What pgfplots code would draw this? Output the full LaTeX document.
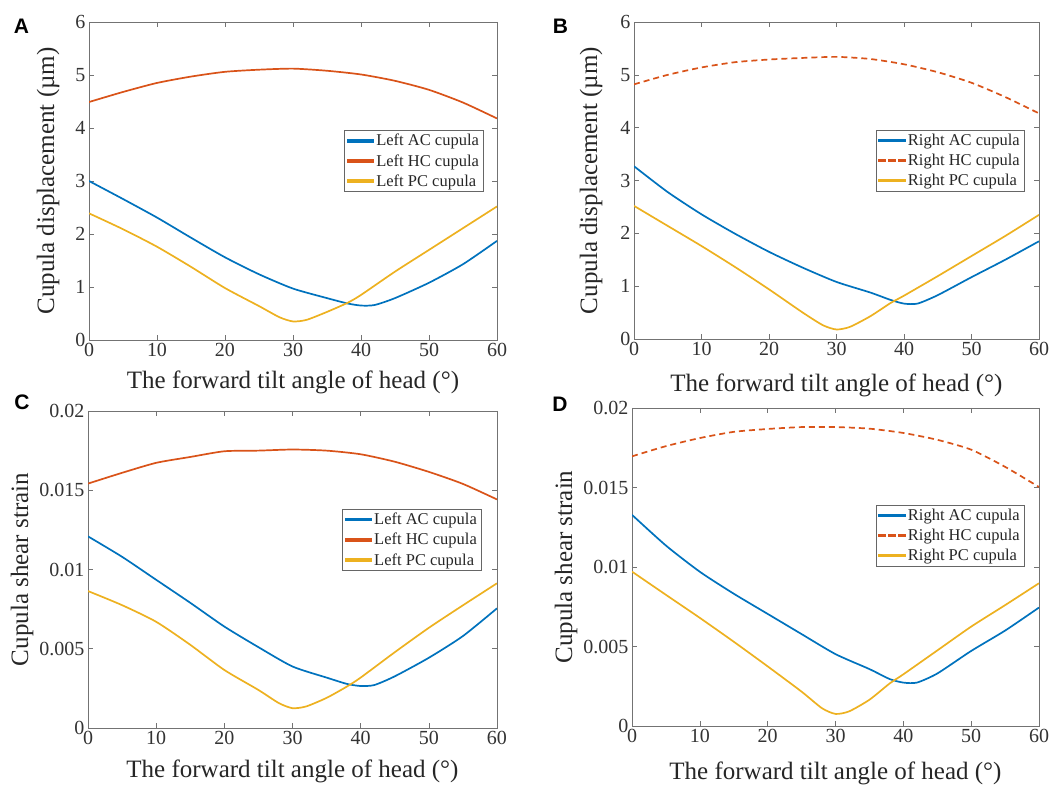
\documentclass[border=0pt]{standalone}
\usepackage{pgfplots}
\pgfplotsset{compat=1.18}
\usepackage{fontspec}
\setmainfont{Liberation Serif}
\newfontfamily\panelfont{Liberation Sans}
\definecolor{mblue}{rgb}{0,0.447,0.741}
\definecolor{morange}{rgb}{0.85,0.325,0.098}
\definecolor{myellow}{rgb}{0.929,0.694,0.125}
\pgfplotsset{
  panel/.style={
    scale only axis,
    xmin=0, xmax=60, xtick={0,10,...,60},
    tick align=inside,
    major tick length=5pt,
    axis line style={black!55, line width=0.6pt},
    tick style={black!55, line width=0.6pt},
    every tick label/.append style={font=\fontsize{20}{20}\selectfont, text=black!80},
    /pgf/number format/assume math mode=true,
    xlabel={The forward tilt angle of head (°)},
    legend cell align=left,
    legend style={font=\fontsize{16.5}{17}\selectfont, draw=black!60, inner sep=2pt, row sep=3pt, text=black!85, anchor=north east},
    every axis plot/.append style={line width=1.7pt, smooth, tension=0.4, forget plot},
  },
  ylab/.style={every axis y label/.style={at={(rel axis cs:0,0.5)}, xshift=#1, rotate=90, anchor=center, font=\fontsize{25}{25}\selectfont, text=black!85}},
  xlab/.style={every axis x label/.style={at={(rel axis cs:0.5,0)}, yshift=#1, anchor=center, font=\fontsize{25}{25}\selectfont, text=black!85}},
  dispaxis/.style={ymin=0, ymax=6, ytick={0,1,...,6}, ylabel={Cupula displacement (µm)}},
  strainaxis/.style={ymin=0, ymax=0.02, ytick={0,0.005,0.01,0.015,0.02},
     yticklabels={0,0.005,0.01,0.015,0.02}, scaled y ticks=false, ylabel={Cupula shear strain}},
}
\newcommand\legsolid[1]{\addlegendimage{legend image code/.code={\fill[#1] (0pt,-0.85pt) rectangle (26pt,0.85pt);}}}
\newcommand\legdash[1]{\addlegendimage{legend image code/.code={\fill[#1] (0pt,-0.85pt) rectangle (6pt,0.85pt);\fill[#1] (10pt,-0.85pt) rectangle (16pt,0.85pt);\fill[#1] (20pt,-0.85pt) rectangle (26pt,0.85pt);}}}
\newcommand\legendset[1]{%
  \legsolid{mblue}\addlegendentry{#1 AC cupula}
  \legsolid{morange}\addlegendentry{#1 HC cupula}
  \legsolid{myellow}\addlegendentry{#1 PC cupula}}
\newcommand\legendsetdash[1]{%
  \legsolid{mblue}\addlegendentry{#1 AC cupula}
  \legdash{morange}\addlegendentry{#1 HC cupula}
  \legsolid{myellow}\addlegendentry{#1 PC cupula}}
\begin{document}
\begin{tikzpicture}
\path (0pt,0pt) rectangle (1063pt,785pt);
% Panel A
\begin{axis}[panel, dispaxis, at={(89pt,445pt)}, anchor=south west, width=408pt, height=318pt,
  ylab=-41pt, xlab=-42pt, legend style={at={(0.966,0.66)}}]
\legendset{Left}
\addplot[mblue] coordinates {(0,3.0) (5,2.66) (10,2.31) (15,1.93) (20,1.56) (25,1.24) (30,0.97) (35,0.79) (38,0.69) (40,0.65) (42,0.66) (45,0.79) (50,1.08) (55,1.43) (60,1.87)};
\addplot[morange] coordinates {(0,4.49) (5,4.68) (10,4.85) (15,4.97) (20,5.06) (25,5.10) (30,5.12) (35,5.08) (40,5.01) (45,4.89) (50,4.72) (55,4.48) (60,4.18)};
\addplot[myellow] coordinates {(0,2.39) (5,2.09) (10,1.76) (15,1.38) (20,0.98) (25,0.64) (28,0.43) (30,0.35) (32,0.38) (35,0.53) (38,0.70) (40,0.85) (45,1.29) (50,1.70) (55,2.11) (60,2.52)};
\end{axis}
% Panel B
\begin{axis}[panel, dispaxis, at={(634pt,446pt)}, anchor=south west, width=405pt, height=317pt,
  ylab=-43pt, xlab=-46pt, legend style={at={(0.963,0.659)}}]
\legendsetdash{Right}
\addplot[mblue] coordinates {(0,3.27) (5,2.78) (10,2.36) (15,1.99) (20,1.65) (25,1.35) (30,1.08) (35,0.88) (38,0.74) (40,0.67) (42,0.67) (45,0.83) (50,1.17) (55,1.50) (60,1.85)};
\addplot[morange, dash pattern=on 6pt off 4pt] coordinates {(0,4.82) (5,5.00) (10,5.14) (15,5.24) (20,5.29) (25,5.32) (30,5.34) (35,5.30) (40,5.20) (45,5.05) (50,4.85) (55,4.58) (60,4.27)};
\addplot[myellow] coordinates {(0,2.52) (5,2.14) (10,1.76) (15,1.36) (20,0.94) (25,0.50) (28,0.26) (30,0.18) (32,0.23) (35,0.43) (38,0.68) (40,0.82) (45,1.19) (50,1.57) (55,1.95) (60,2.35)};
\end{axis}
% Panel C
\begin{axis}[panel, strainaxis, at={(88pt,57pt)}, anchor=south west, width=409pt, height=317pt,
  ylab=-66pt, xlab=-43pt, legend style={at={(0.961,0.691)}}]
\legendset{Left}
\addplot[mblue] coordinates {(0,0.01209) (5,0.0108) (10,0.00935) (15,0.0079) (20,0.00640) (25,0.0051) (30,0.00388) (35,0.00318) (38,0.00278) (40,0.00265) (42,0.00271) (45,0.00326) (50,0.00443) (55,0.00580) (60,0.00755)};
\addplot[morange] coordinates {(0,0.01542) (5,0.0161) (10,0.01673) (15,0.0171) (20,0.01746) (25,0.0175) (30,0.01757) (35,0.0175) (40,0.01727) (45,0.0168) (50,0.01616) (55,0.0154) (60,0.01442)};
\addplot[myellow] coordinates {(0,0.00864) (5,0.00775) (10,0.00670) (15,0.00525) (20,0.00366) (25,0.00240) (28,0.00157) (30,0.00125) (32,0.00136) (35,0.00190) (38,0.00262) (40,0.00318) (45,0.00478) (50,0.00632) (55,0.00774) (60,0.00913)};
\end{axis}
% Panel D
\begin{axis}[panel, strainaxis, at={(632pt,59pt)}, anchor=south west, width=407pt, height=318pt,
  ylab=-66pt, xlab=-47pt, legend style={at={(0.963,0.695)}}]
\legendsetdash{Right}
\addplot[mblue] coordinates {(0,0.01328) (5,0.01135) (10,0.00970) (15,0.00832) (20,0.00705) (25,0.00578) (30,0.00452) (35,0.00358) (38,0.00295) (40,0.00273) (42,0.00273) (45,0.00330) (50,0.00472) (55,0.00600) (60,0.00745)};
\addplot[morange, dash pattern=on 6pt off 4pt] coordinates {(0,0.01696) (5,0.0176) (10,0.01811) (15,0.0185) (20,0.01868) (25,0.0188) (30,0.0188) (35,0.0187) (40,0.01843) (45,0.0180) (50,0.01738) (55,0.0163) (60,0.01503)};
\addplot[myellow] coordinates {(0,0.00971) (5,0.00825) (10,0.00680) (15,0.00530) (20,0.00375) (25,0.00216) (28,0.00112) (30,0.00076) (32,0.00092) (35,0.00165) (38,0.00268) (40,0.00325) (45,0.00475) (50,0.00625) (55,0.00760) (60,0.00898)};
\end{axis}
% panel letters
\node[font=\panelfont\bfseries\fontsize{21}{21}\selectfont] at (21.5pt,759pt) {A};
\node[font=\panelfont\bfseries\fontsize{21}{21}\selectfont] at (560.5pt,759pt) {B};
\node[font=\panelfont\bfseries\fontsize{21}{21}\selectfont] at (22pt,383pt) {C};
\node[font=\panelfont\bfseries\fontsize{21}{21}\selectfont] at (560pt,381pt) {D};
\end{tikzpicture}
\end{document}
